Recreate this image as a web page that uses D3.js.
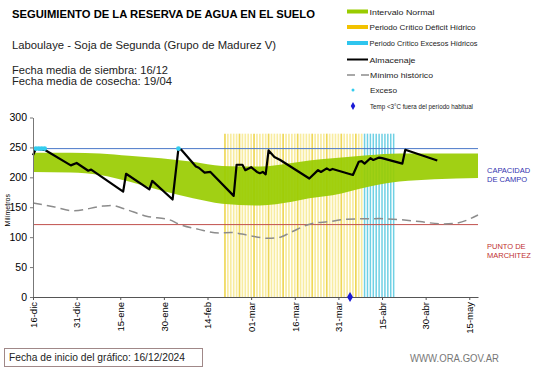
<!DOCTYPE html>
<html>
<head>
<meta charset="utf-8">
<script src="https://cdn.jsdelivr.net/npm/d3@7"></script>
<style>
  body { margin: 0; background: #fff; }
  text { font-family: "Liberation Sans", Arial, sans-serif; }
</style>
</head>
<body>
<svg id="chart"></svg>
<script>
var w = 541;
var h = 368;

// x = days since 16-dic
var tickDays = [0, 15, 30, 45, 60, 75, 90, 105, 120, 135, 150];
var tickLabels = ['16-dic', '31-dic', '15-ene', '30-ene', '14-feb', '01-mar', '16-mar', '31-mar', '15-abr', '30-abr', '15-may'];
var yTicks = [0, 50, 100, 150, 200, 250, 300];

// intervalo normal
var bandDays = [0, 13, 23, 33, 44, 55, 65, 78, 89, 95, 103, 115, 126, 138, 153];
var bandHigh = [241, 241, 240, 236, 232, 226, 219, 218, 224, 228, 232, 237, 240, 240, 240];
var bandLow = [209, 208, 204, 193, 178, 165, 156, 153, 159, 165, 170, 184, 193, 197, 199];

// minimo historico
var minDays = [0, 7, 14, 24, 27, 31, 39, 47, 50, 57, 64, 68, 74, 81, 85, 89, 96, 102, 108, 119, 124, 133, 141, 145, 153];
var minVals = [157, 151, 144, 152, 153, 148, 135, 129, 122, 113, 107, 108, 103, 98, 100, 109, 123, 126, 130, 131, 130, 126, 122, 123, 137];

// almacenaje
var storeDays = [0, 1, 4, 13, 15, 19, 20, 31, 32, 40, 41, 48, 50, 51, 56, 57, 59, 61, 69, 70, 72, 73, 75, 77, 78, 79, 80, 81, 83, 85, 95, 98, 99, 101, 102, 103, 110, 112, 113, 114, 116, 117, 119, 120, 127, 128, 139];
var storeVals = [237, 248, 246, 220, 224, 211, 213, 176, 206, 180, 194, 163, 248, 246, 218, 216, 208, 209, 169, 221, 221, 212, 217, 209, 207, 209, 205, 245, 234, 229, 198, 212, 209, 215, 212, 214, 204, 226, 227, 223, 232, 229, 233, 232, 223, 246, 228];

var excesoDays = [1, 2, 3, 4, 50];
var tempDays = [109];

var deficitStart = 66, deficitEnd = 113;
var excesosStart = 114, excesosEnd = 124;
var criticalTop = 273;

var capacidad = 248;
var marchitez = 121;

var svg = d3.select('#chart').attr('width', w).attr('height', h);
svg.append('rect').attr('width', w).attr('height', h).attr('fill', '#fff');

var x = d3.scaleLinear().domain([0, 153]).range([33, 478]);
var y = d3.scaleLinear().domain([0, 300]).range([297, 117.5]);

// Periodos criticos
svg.selectAll('line.def')
  .data(d3.range(deficitStart, deficitEnd + 1))
  .enter()
  .append('line')
  .attr('class', 'def')
  .attr('x1', function (d) { return x(d); })
  .attr('x2', function (d) { return x(d); })
  .attr('y1', y(0))
  .attr('y2', y(criticalTop))
  .attr('stroke', function (d, i) { return i % 5 === 0 ? '#efd858' : '#f8eca0'; })
  .attr('stroke-width', 1.7);

svg.selectAll('line.exc')
  .data(d3.range(excesosStart, excesosEnd + 1))
  .enter()
  .append('line')
  .attr('class', 'exc')
  .attr('x1', function (d) { return x(d); })
  .attr('x2', function (d) { return x(d); })
  .attr('y1', y(0))
  .attr('y2', y(criticalTop))
  .attr('stroke', '#6fd0e4')
  .attr('stroke-width', 1.5);

// Intervalo normal
var area = d3.area()
  .x(function (d, i) { return x(bandDays[i]); })
  .y0(function (d, i) { return y(bandLow[i]); })
  .y1(function (d, i) { return y(bandHigh[i]); })
  .curve(d3.curveMonotoneX);

svg.append('path')
  .datum(bandDays)
  .attr('d', area)
  .attr('fill', '#99cc00')
  .attr('opacity', 0.92);

// Capacidad de campo / punto de marchitez
svg.append('line')
  .attr('x1', x(0)).attr('x2', x(153))
  .attr('y1', y(capacidad)).attr('y2', y(capacidad))
  .attr('stroke', '#4a78c8').attr('stroke-width', 1);

svg.append('line')
  .attr('x1', x(0)).attr('x2', x(153))
  .attr('y1', y(marchitez)).attr('y2', y(marchitez))
  .attr('stroke', '#c0504d').attr('stroke-width', 1);

// Minimo historico
var minLine = d3.line()
  .x(function (d, i) { return x(minDays[i]); })
  .y(function (d) { return y(d); })
  .curve(d3.curveMonotoneX);

svg.append('path')
  .datum(minVals)
  .attr('d', minLine)
  .attr('fill', 'none')
  .attr('stroke', '#8c8c8c')
  .attr('stroke-width', 1.5)
  .attr('stroke-dasharray', '9,5');

// Almacenaje
var storeLine = d3.line()
  .x(function (d, i) { return x(storeDays[i]); })
  .y(function (d) { return y(d); });

svg.append('path')
  .datum(storeVals)
  .attr('d', storeLine)
  .attr('fill', 'none')
  .attr('stroke', '#000')
  .attr('stroke-width', 2.2)
  .attr('stroke-linejoin', 'round');

// Exceso
svg.selectAll('circle.exceso')
  .data(excesoDays)
  .enter()
  .append('circle')
  .attr('class', 'exceso')
  .attr('cx', function (d) { return x(d); })
  .attr('cy', y(capacidad))
  .attr('r', 2.4)
  .attr('fill', '#33ccee');

// Axes
var yAxis = d3.axisLeft(y).tickValues(yTicks).tickSize(3).tickSizeOuter(0);
var gy = svg.append('g').attr('transform', 'translate(' + x(0) + ',0)').call(yAxis);
gy.selectAll('text').attr('font-size', '10.5px').attr('fill', '#000').attr('font-family', 'Liberation Sans, Arial');
gy.selectAll('line, path').attr('stroke', '#777');

var xAxis = d3.axisBottom(x).tickValues(tickDays).tickSize(3).tickSizeOuter(0)
  .tickFormat(function (d, i) { return tickLabels[i]; });
var gx = svg.append('g').attr('transform', 'translate(0,' + y(0) + ')').call(xAxis);
gx.selectAll('line, path').attr('stroke', '#555');
gx.selectAll('text')
  .attr('font-size', '9.5px')
  .attr('fill', '#000')
  .attr('font-family', 'Liberation Sans, Arial')
  .attr('text-anchor', 'end')
  .attr('transform', 'rotate(-90)')
  .attr('x', -5)
  .attr('y', 0)
  .attr('dy', '0.35em');

// Temp diamond
svg.selectAll('path.temp')
  .data(tempDays)
  .enter()
  .append('path')
  .attr('class', 'temp')
  .attr('d', d3.symbol().type(d3.symbolDiamond).size(30))
  .attr('transform', function (d) { return 'translate(' + x(d) + ',' + y(0) + ')'; })
  .attr('fill', '#1a1ad6');

svg.append('text')
  .attr('transform', 'translate(10,' + y(145) + ') rotate(-90)')
  .attr('text-anchor', 'middle')
  .attr('font-size', '7px')
  .text('Milímetros');

// Side labels
svg.append('text').attr('x', 487).attr('y', 173).attr('font-size', '7.5px').attr('fill', '#3333b0').text('CAPACIDAD');
svg.append('text').attr('x', 487).attr('y', 182).attr('font-size', '7.5px').attr('fill', '#3333b0').text('DE  CAMPO');
svg.append('text').attr('x', 487).attr('y', 249).attr('font-size', '7.5px').attr('fill', '#c03030').text('PUNTO   DE');
svg.append('text').attr('x', 487).attr('y', 258).attr('font-size', '7.5px').attr('fill', '#c03030').text('MARCHITEZ');

// Titles
svg.append('text').attr('x', 12).attr('y', 18).attr('font-size', '10.5px').attr('font-weight', 'bold')
  .attr('textLength', 303).attr('lengthAdjust', 'spacingAndGlyphs')
  .text('SEGUIMIENTO DE LA RESERVA DE AGUA  EN EL SUELO');
svg.append('text').attr('x', 12).attr('y', 49).attr('font-size', '11.5px').attr('fill', '#222')
  .attr('textLength', 264).attr('lengthAdjust', 'spacingAndGlyphs')
  .text('Laboulaye - Soja de Segunda (Grupo de Madurez V)');
svg.append('text').attr('x', 12).attr('y', 74).attr('font-size', '10px').attr('fill', '#222')
  .attr('textLength', 156).attr('lengthAdjust', 'spacingAndGlyphs')
  .text('Fecha media de siembra: 16/12');
svg.append('text').attr('x', 12).attr('y', 85).attr('font-size', '10px').attr('fill', '#222')
  .attr('textLength', 160).attr('lengthAdjust', 'spacingAndGlyphs')
  .text('Fecha media de cosecha: 19/04');

// Legend
var lg = svg.append('g').attr('font-size', '7.5px').attr('fill', '#222');
lg.append('rect').attr('x', 347).attr('y', 9.5).attr('width', 21).attr('height', 4).attr('fill', '#99cc00');
lg.append('rect').attr('x', 347).attr('y', 25).attr('width', 21).attr('height', 4).attr('fill', '#f2c200');
lg.append('rect').attr('x', 347).attr('y', 41).attr('width', 21).attr('height', 4).attr('fill', '#2ec5ee');
lg.append('line').attr('x1', 347).attr('x2', 368).attr('y1', 59.5).attr('y2', 59.5).attr('stroke', '#000').attr('stroke-width', 2);
lg.append('line').attr('x1', 347).attr('x2', 369).attr('y1', 75).attr('y2', 75).attr('stroke', '#8c8c8c').attr('stroke-width', 1.5).attr('stroke-dasharray', '8,6');
lg.append('circle').attr('cx', 353).attr('cy', 90).attr('r', 1.5).attr('fill', '#33ccee');
lg.append('path').attr('d', d3.symbol().type(d3.symbolDiamond).size(18)).attr('transform', 'translate(353,106)').attr('fill', '#1a1ad6');

var legendItems = ['Intervalo Normal', 'Periodo Crítico Déficit Hídrico', 'Periodo Crítico Excesos Hídricos', 'Almacenaje', 'Mínimo histórico', 'Exceso', 'Temp <3°C fuera del período habitual'];
var legendY = [14.5, 30, 46, 62.5, 78, 93, 109];
var legendX = [369.5, 369.5, 369.5, 369.5, 370, 370, 370];
var legendLen = [65, 106, 108, 46, 63, 27, 103];
lg.selectAll('text')
  .data(legendItems)
  .enter()
  .append('text')
  .attr('x', function (d, i) { return legendX[i]; })
  .attr('y', function (d, i) { return legendY[i]; })
  .attr('textLength', function (d, i) { return legendLen[i]; })
  .attr('lengthAdjust', 'spacingAndGlyphs')
  .text(function (d) { return d; });

// Footer
svg.append('rect').attr('x', 4.5).attr('y', 348.5).attr('width', 198).attr('height', 18)
  .attr('fill', 'none').attr('stroke', '#a08888').attr('stroke-width', 1);
svg.append('text').attr('x', 9).attr('y', 361).attr('font-size', '10.5px').attr('fill', '#222')
  .attr('textLength', 176).attr('lengthAdjust', 'spacingAndGlyphs')
  .text('Fecha de inicio del gráfico:   16/12/2024');
svg.append('text').attr('x', 410).attr('y', 362).attr('font-size', '10px').attr('fill', '#777')
  .attr('textLength', 89).attr('lengthAdjust', 'spacingAndGlyphs')
  .text('WWW.ORA.GOV.AR');
</script>
</body>
</html>
